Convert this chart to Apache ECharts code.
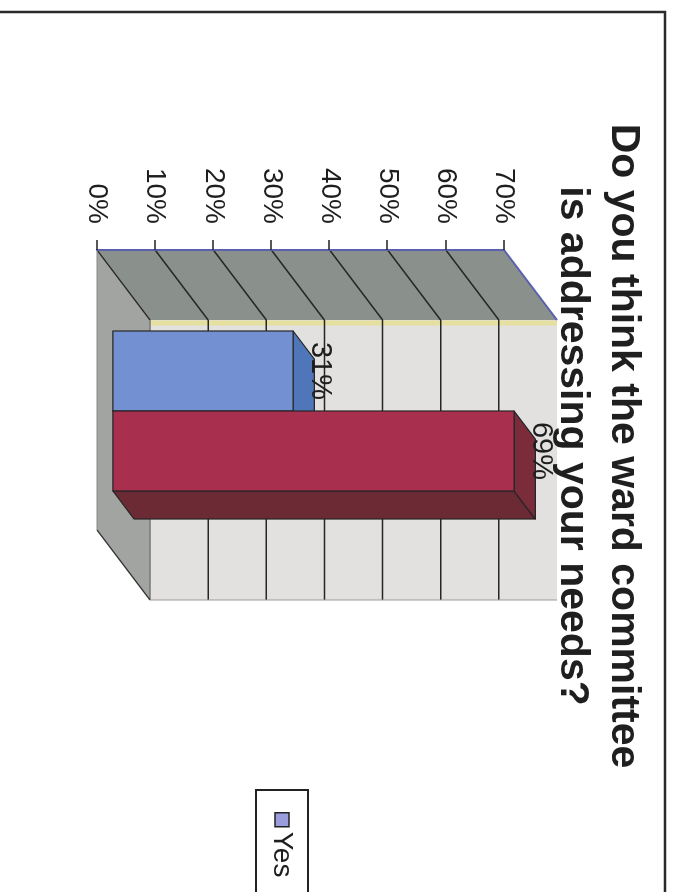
<!DOCTYPE html>
<html><head><meta charset="utf-8">
<script src="https://cdn.jsdelivr.net/npm/echarts@6/dist/echarts.min.js"></script>
<style>
html,body{margin:0;padding:0;background:#fff;overflow:hidden;width:675px;height:892px;}
#chart{position:absolute;left:0;top:0;width:892px;height:675px;transform-origin:0 0;transform:translate(675px,0) rotate(90deg);}
</style></head><body><div id="chart"></div>
<script>
const titleLines = ['Do you think the ward committee', 'is addressing your needs?'];
const categories = ['Ward committee'];
const seriesNames = ['Yes', 'No'];
const yesValues = [31];
const noValues = [69];
const valueTicks = [0, 10, 20, 30, 40, 50, 60, 70];
const legendItems = ['Yes'];

const FONT = "'Liberation Sans', Arial, sans-serif";
const DEPTH = [70, -53];
const BAR_FRONT = 0.3, BAR_BACK = 0.7;
const BAR_W = 80;
function add(p, f) { return [p[0] + DEPTH[0] * f, p[1] + DEPTH[1] * f]; }

function renderWalls(params, api) {
  const cs = params.coordSys;
  const x0 = cs.x, x1 = cs.x + cs.width;
  const vMax = valueTicks[valueTicks.length - 1];
  const yBase = api.coord([0, valueTicks[0]])[1];
  const yTop = api.coord([0, vMax])[1];
  const ch = [];
  ch.push({type:'polygon', shape:{points:[add([x0,yTop],1), add([x1,yTop],1), add([x1,yBase],1), add([x0,yBase],1)]}, style:{fill:'#e3e1df'}});
  ch.push({type:'polygon', shape:{points:[[x0,yBase],[x0,yTop],add([x0,yTop],1),add([x0,yBase],1)]}, style:{fill:'#8a908b'}});
  ch.push({type:'polygon', shape:{points:[[x0,yBase],[x1,yBase],add([x1,yBase],1),add([x0,yBase],1)]}, style:{fill:'#a2a4a2'}});
  const yl = add([x0 + 3, yTop], 1), yl2 = add([x0 + 3, yBase], 1);
  ch.push({type:'line', shape:{x1:yl[0], y1:yl[1], x2:yl2[0], y2:yl2[1]}, style:{stroke:'#e6e0a0', lineWidth:5}});
  valueTicks.forEach(function (v) {
    const y = api.coord([0, v])[1];
    const a = add([x0, y], 1), b = add([x1, y], 1);
    if (v === vMax) {
      ch.push({type:'line', shape:{x1:x0, y1:y, x2:a[0], y2:a[1]}, style:{stroke:'#5a5fae', lineWidth:2}});
    } else {
      ch.push({type:'line', shape:{x1:x0, y1:y, x2:a[0], y2:a[1]}, style:{stroke:'#262626', lineWidth:1.5}});
      ch.push({type:'line', shape:{x1:a[0], y1:a[1], x2:b[0], y2:b[1]}, style:{stroke: v === valueTicks[0] ? '#777' : '#262626', lineWidth:1.5}});
    }
  });
  const f1 = add([x1, yBase], 1);
  ch.push({type:'line', shape:{x1:x1, y1:yBase, x2:f1[0], y2:f1[1]}, style:{stroke:'#333', lineWidth:1.5}});
  ch.push({type:'line', shape:{x1:x0, y1:yBase, x2:x1, y2:yBase}, style:{stroke:'#888', lineWidth:1}});
  const t1 = add([x1, yTop], 1);
  ch.push({type:'line', shape:{x1:t1[0], y1:t1[1], x2:f1[0], y2:f1[1]}, style:{stroke:'#9a9a9a', lineWidth:1}});
  return {type:'group', children:ch};
}

function makeBar(idx, cols) {
  return function (params, api) {
    const val = api.value(1);
    const c = api.coord([api.value(0), 0]);
    const t = api.coord([api.value(0), val]);
    const left = c[0] - BAR_W + idx * BAR_W, right = left + BAR_W;
    const yB = c[1], yT = t[1];
    const fTL = add([left, yT], BAR_FRONT), fTR = add([right, yT], BAR_FRONT);
    const fBR = add([right, yB], BAR_FRONT), fBL = add([left, yB], BAR_FRONT);
    const bTL = add([left, yT], BAR_BACK), bTR = add([right, yT], BAR_BACK), bBR = add([right, yB], BAR_BACK);
    const edge = {stroke:'#262626', lineWidth:1.2, lineJoin:'round'};
    return {type:'group', children:[
      {type:'polygon', shape:{points:[fTR, bTR, bBR, fBR]}, style:Object.assign({fill:cols.side}, edge)},
      {type:'polygon', shape:{points:[fTL, fTR, bTR, bTL]}, style:Object.assign({fill:cols.top}, edge)},
      {type:'polygon', shape:{points:[fTL, fTR, fBR, fBL]}, style:Object.assign({fill:cols.front}, edge)},
      {type:'text', style:{x:(fTL[0] + fTR[0]) / 2, y:fTL[1] - 12, text: val + '%', font:'29px ' + FONT, fill:'#1e1e1e', textAlign:'center', textVerticalAlign:'bottom'}}
    ]};
  };
}

const chart = echarts.init(document.getElementById('chart'), null, {renderer:'canvas'});
chart.setOption({
  backgroundColor:'#ffffff',
  animation:false,
  title:{text:titleLines.join('\n'), left:'center', top:21, padding:5,
    textStyle:{fontSize:41, fontWeight:'bold', fontFamily:FONT, color:'#1f1f1f', lineHeight:51}},
  legend:{data:legendItems.map(function (n) { return {name:n, itemStyle:{color:'#9a9ddc', borderColor:'#222', borderWidth:1.5}}; }),
    left:790, top:367, orient:'horizontal', icon:'rect', itemWidth:14, itemHeight:14,
    padding:[12, 60, 12, 22], borderColor:'#222', borderWidth:2,
    textStyle:{fontSize:28, fontFamily:FONT, color:'#1e1e1e'}},
  grid:{left:250, right:362, top:171, bottom:97},
  xAxis:{type:'category', data:categories, show:false},
  yAxis:{type:'value', min:valueTicks[0], max:valueTicks[valueTicks.length - 1], interval:valueTicks[1] - valueTicks[0], z:10,
    axisLine:{show:true, lineStyle:{color:'#5a5fae', width:2}},
    axisTick:{show:true, length:10, lineStyle:{color:'#222', width:1.5}},
    axisLabel:{formatter:'{value}%', margin:26, fontSize:28, fontFamily:FONT, color:'#1e1e1e'},
    splitLine:{show:false}},
  graphic:[{type:'rect', silent:true, shape:{x:12, y:10, width:900, height:700}, style:{fill:'none', stroke:'#2a2a2a', lineWidth:2.5}}],
  series:[
    {type:'custom', name:'walls', z:0, silent:true, clip:false, renderItem:renderWalls, data:[[0, 0]], encode:{x:0, y:1}},
    {type:'custom', name:seriesNames[0], z:2, clip:false, renderItem:makeBar(0, {front:'#7391d2', top:'#4f76b8', side:'#46679f'}),
      data:yesValues.map(function (v, i) { return [i, v]; }), encode:{x:0, y:1}},
    {type:'custom', name:seriesNames[1], z:3, clip:false, renderItem:makeBar(1, {front:'#a82f4e', top:'#7a2c3a', side:'#6b2a34'}),
      data:noValues.map(function (v, i) { return [i, v]; }), encode:{x:0, y:1}}
  ]
});
</script></body></html>
